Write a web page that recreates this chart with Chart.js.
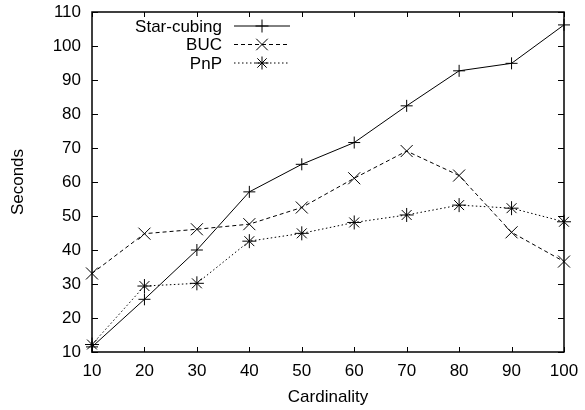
<!DOCTYPE html>
<html>
<head>
<meta charset="utf-8">
<script src="https://cdn.jsdelivr.net/npm/chart.js@4/dist/chart.umd.min.js"></script>
<style>
  html, body { margin: 0; padding: 0; background: #fff; }
  #wrap { width: 585px; height: 410px; }
</style>
</head>
<body>
<div id="wrap"><canvas id="chart" width="585" height="410"></canvas></div>
<script>
// data
const cardinality = [10, 20, 30, 40, 50, 60, 70, 80, 90, 100];
const starCubing = [11.5, 25.5, 40, 57.1, 65.2, 71.6, 82.4, 92.7, 94.9, 106.2];
const buc = [33.1, 44.8, 46.1, 47.6, 52.5, 61.1, 69.1, 61.9, 45.2, 36.6];
const pnp = [12.2, 29.4, 30.2, 42.6, 44.9, 48.1, 50.3, 53.2, 52.3, 48.3];
const yTicks = [10, 20, 30, 40, 50, 60, 70, 80, 90, 100, 110];

const FONT = '"Liberation Sans", Arial, Helvetica, sans-serif';

function toXY(vals) {
    return vals.map((v, i) => ({ x: cardinality[i], y: v }));
}

// frame + inward ticks on all four sides (gnuplot style)
const framePlugin = {
    id: 'frame',
    afterDatasetsDraw(chart) {
        const { ctx, chartArea: a, scales } = chart;
        ctx.save();
        ctx.strokeStyle = '#000';
        ctx.lineWidth = 1;
        ctx.beginPath();
        cardinality.forEach(v => {
            const px = Math.round(scales.x.getPixelForValue(v)) + 0.5;
            ctx.moveTo(px, a.bottom); ctx.lineTo(px, a.bottom - 5);
            ctx.moveTo(px, a.top); ctx.lineTo(px, a.top + 5);
        });
        yTicks.forEach(v => {
            const py = Math.round(scales.y.getPixelForValue(v)) + 0.5;
            ctx.moveTo(a.left, py); ctx.lineTo(a.left + 6, py);
            ctx.moveTo(a.right, py); ctx.lineTo(a.right - 6, py);
        });
        ctx.stroke();
        ctx.lineWidth = 1.5;
        ctx.strokeRect(a.left, a.top, a.right - a.left, a.bottom - a.top);
        ctx.restore();
    }
};

// legend: text on the left, line sample + marker on the right
function marker(ctx, style, x, y, r) {
    ctx.beginPath();
    if (style === 'cross' || style === 'star') {
        ctx.moveTo(x - r, y); ctx.lineTo(x + r, y);
        ctx.moveTo(x, y - r); ctx.lineTo(x, y + r);
    }
    if (style === 'crossRot' || style === 'star') {
        const d = r * 0.72;
        ctx.moveTo(x - d, y - d); ctx.lineTo(x + d, y + d);
        ctx.moveTo(x - d, y + d); ctx.lineTo(x + d, y - d);
    }
    ctx.stroke();
}

const legendPlugin = {
    id: 'gpLegend',
    afterDraw(chart) {
        const ctx = chart.ctx;
        ctx.save();
        ctx.font = '17px ' + FONT;
        ctx.fillStyle = '#000';
        ctx.textAlign = 'right';
        ctx.textBaseline = 'middle';
        chart.data.datasets.forEach((ds, i) => {
            const y = 26 + i * 18.5;
            ctx.fillText(ds.label, 222, y + 1);
            ctx.strokeStyle = '#000';
            ctx.lineWidth = 1;
            ctx.setLineDash(ds.borderDash || []);
            ctx.beginPath();
            ctx.moveTo(234, y); ctx.lineTo(290, y);
            ctx.stroke();
            ctx.setLineDash([]);
            marker(ctx, ds.pointStyle, 262, y, ds.pointStyle === 'crossRot' ? 8 : 6.5);
        });
        ctx.restore();
    }
};

const common = {
    borderColor: '#000',
    pointBorderColor: '#000',
    pointBackgroundColor: '#000',
    borderWidth: 1,
    pointBorderWidth: 1,
    fill: false,
    tension: 0,
    clip: false
};

new Chart(document.getElementById('chart').getContext('2d'), {
    type: 'line',
    data: {
        datasets: [
            Object.assign({ label: 'Star-cubing', data: toXY(starCubing), pointStyle: 'cross', pointRadius: 6 }, common),
            Object.assign({ label: 'BUC', data: toXY(buc), pointStyle: 'crossRot', pointRadius: 8.5, borderDash: [4, 3] }, common),
            Object.assign({ label: 'PnP', data: toXY(pnp), pointStyle: 'star', pointRadius: 7, borderDash: [1.5, 2.5] }, common)
        ]
    },
    options: {
        responsive: false,
        animation: false,
        layout: { padding: { top: 12, right: 21, left: 0, bottom: 0 } },
        plugins: {
            legend: { display: false },
            tooltip: { enabled: false }
        },
        scales: {
            x: {
                type: 'linear',
                min: 10, max: 100,
                grid: { display: false, drawTicks: false },
                border: { display: false },
                afterBuildTicks(s) { s.ticks = cardinality.map(v => ({ value: v })); },
                afterFit(s) { s.height = 58; s.paddingLeft = 0; s.paddingRight = 0; },
                ticks: { color: '#000', padding: 9, maxRotation: 0, font: { family: FONT, size: 17 } },
                title: { display: true, text: 'Cardinality', color: '#000', padding: { top: 4, bottom: 2 }, font: { family: FONT, size: 17 } }
            },
            y: {
                min: 10, max: 110,
                grid: { display: false, drawTicks: false },
                border: { display: false },
                afterBuildTicks(s) { s.ticks = yTicks.map(v => ({ value: v })); },
                afterFit(s) { s.width = 92; s.paddingTop = 0; s.paddingBottom = 0; },
                ticks: { color: '#000', padding: 11, font: { family: FONT, size: 17 } },
                title: { display: true, text: 'Seconds', color: '#000', padding: { top: 8, bottom: 0 }, font: { family: FONT, size: 17 } }
            }
        }
    },
    plugins: [framePlugin, legendPlugin]
});
</script>
</body>
</html>
